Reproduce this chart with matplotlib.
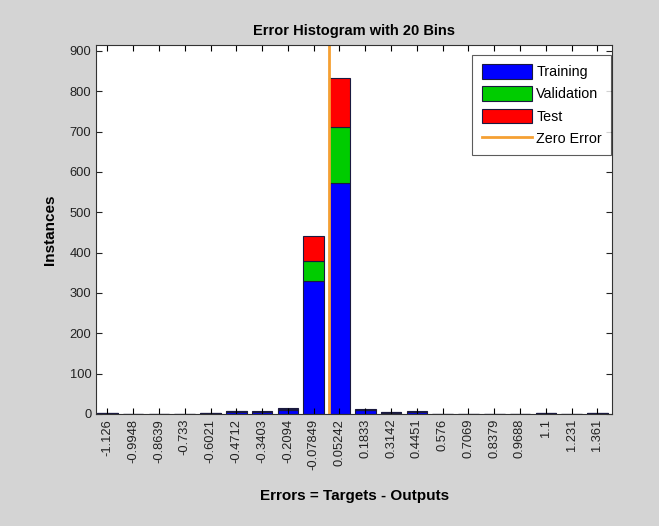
import matplotlib
matplotlib.use("Agg")
import matplotlib.pyplot as plt
import numpy as np

plt.rcParams['font.family'] = ['Liberation Sans', 'DejaVu Sans']

bin_labels = ["-1.126", "-0.9948", "-0.8639", "-0.733", "-0.6021", "-0.4712",
              "-0.3403", "-0.2094", "-0.07849", "0.05242", "0.1833", "0.3142",
              "0.4451", "0.576", "0.7069", "0.8379", "0.9688", "1.1", "1.231", "1.361"]
bin_centers = [float(s) for s in bin_labels]
training   = [2, 1, 1, 1, 2, 6, 5, 10, 330, 572, 9, 3, 5, 1, 1, 1, 1, 2, 0, 2]
validation = [0, 0, 0, 0, 0, 1, 1, 2, 48, 140, 2, 1, 1, 0, 0, 0, 0, 0, 0, 0]
test       = [0, 0, 0, 0, 0, 1, 1, 2, 64, 120, 2, 0, 1, 0, 0, 0, 0, 0, 0, 0]

fig = plt.figure(figsize=(6.59, 5.26), dpi=100, facecolor='#d4d4d4')
ax = fig.add_axes([0.146, 0.213, 0.783, 0.702])
ax.set_facecolor('white')

x = np.array(bin_centers)
w = 0.1309
tr = np.array(training); va = np.array(validation); te = np.array(test)
ec = '#1a1a40'
b1 = ax.bar(x, tr, width=w*0.8, color=(0, 0, 1), edgecolor=ec, linewidth=0.8, label='Training')
b2 = ax.bar(x, va, width=w*0.8, bottom=tr, color=(0, 0.8, 0), edgecolor=ec, linewidth=0.8, label='Validation')
b3 = ax.bar(x, te, width=w*0.8, bottom=tr+va, color=(1, 0, 0), edgecolor=ec, linewidth=0.8, label='Test')
ymax = (tr+va+te).max()*1.1
ln, = ax.plot([0, 0], [0, ymax], color='#f5a033', linewidth=2, label='Zero Error')

ax.set_xlim(x[0]-0.43*w, x[-1]+0.58*w)
ax.set_ylim(0, ymax)
ax.set_xticks(x)
ax.set_xticklabels(bin_labels, rotation=90, fontsize=9.3, color='#222222')
ax.set_yticks(np.arange(0, 901, 100))
ax.tick_params(axis='y', labelsize=9.3, colors='#222222')
ax.tick_params(direction='in', top=True, right=True, length=4, width=0.8)
for s in ax.spines.values():
    s.set_linewidth(0.8)
    s.set_color('#333333')

ax.set_title('Error Histogram with 20 Bins', fontsize=10.5, fontweight='bold', pad=7)
ax.set_xlabel('Errors = Targets - Outputs', fontsize=11, fontweight='bold', labelpad=14)
ax.set_ylabel('Instances', fontsize=11, fontweight='bold', labelpad=9)

leg = ax.legend(handles=[b1, b2, b3, ln], loc='upper right', bbox_to_anchor=(0.998, 0.973),
                fontsize=10.3, frameon=True, fancybox=False, edgecolor='#333333',
                handlelength=3.5, handleheight=1.2, borderpad=0.65, labelspacing=0.5,
                handletextpad=0.3, borderaxespad=0.0)
leg.get_frame().set_linewidth(0.8)

fig.savefig('out.png', dpi=100, facecolor=fig.get_facecolor())
